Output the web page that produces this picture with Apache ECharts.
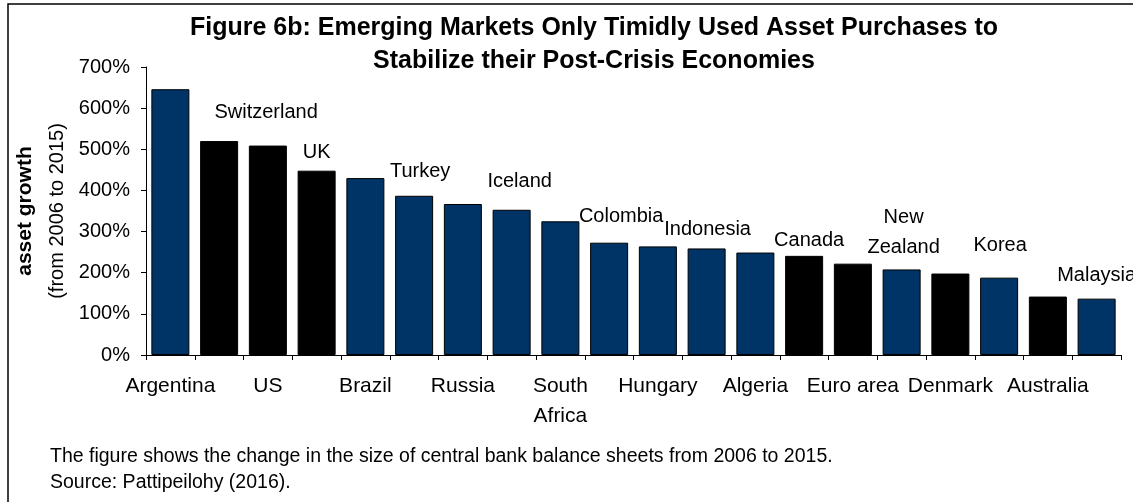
<!DOCTYPE html>
<html>
<head>
<meta charset="utf-8">
<script src="https://cdn.jsdelivr.net/npm/echarts@6/dist/echarts.min.js"></script>
<style>
  html, body { margin: 0; padding: 0; background: #ffffff; }
  #chart { width: 1133px; height: 502px; }
</style>
</head>
<body>
<div id="chart"></div>
<script>
// ---- data ----
const categories = ['Argentina', 'Switzerland', 'US', 'UK', 'Brazil', 'Turkey', 'Russia', 'Iceland',
  'South Africa', 'Colombia', 'Hungary', 'Indonesia', 'Algeria', 'Canada', 'Euro area',
  'New Zealand', 'Denmark', 'Korea', 'Australia', 'Malaysia'];
const assetGrowth = [646, 520, 509, 448, 430, 387, 367, 353, 325, 273, 264, 259, 249, 241, 222, 208, 198, 188, 142, 137];
const economyGroup = ['EM', 'AE', 'AE', 'AE', 'EM', 'EM', 'EM', 'EM', 'EM', 'EM', 'EM', 'EM', 'EM', 'AE', 'AE',
  'EM', 'AE', 'EM', 'AE', 'EM'];
const yTickValues = [0, 100, 200, 300, 400, 500, 600, 700];
const titleLines = ['Figure 6b: Emerging Markets Only Timidly Used Asset Purchases to',
  'Stabilize their Post-Crisis Economies'];
const yAxisTitle = 'asset growth';
const yAxisSubtitle = '(from 2006 to 2015)';
const noteLines = ['The figure shows the change in the size of central bank balance sheets from 2006 to 2015.',
  'Source: Pattipeilohy (2016).'];

// ---- styles ----
const FONT = '"Liberation Sans", Arial, sans-serif';
const groupColor = { EM: '#003366', AE: '#000000' };
const wrapName = { 'South Africa': 'South\nAfrica', 'New Zealand': 'New\nZealand' };
const labelNudge = {
  'Switzerland': [47, -7], 'UK': [0, 4], 'Turkey': [6, -2], 'Iceland': [8, -6],
  'Colombia': [12, -4], 'Indonesia': [1, 3], 'Canada': [5, 7], 'New Zealand': [2, 0],
  'Korea': [1, -10], 'Malaysia': [0, -1]
};

const barData = assetGrowth.map((v, i) => {
  const name = categories[i];
  const showTop = i % 2 === 1;
  return {
    value: v,
    itemStyle: { color: groupColor[economyGroup[i]], borderColor: '#000000', borderWidth: 1 },
    label: {
      show: showTop,
      offset: labelNudge[name] || [0, 0]
    }
  };
});

const chart = echarts.init(document.getElementById('chart'), null, { renderer: 'canvas' });
chart.setOption({
  animation: false,
  backgroundColor: '#ffffff',
  textStyle: { fontFamily: FONT },
  title: {
    text: titleLines.join('\n'),
    left: 594,
    top: 12,
    padding: 0,
    textAlign: 'center',
    textStyle: { fontFamily: FONT, fontSize: 25, fontWeight: 'bold', color: '#000', lineHeight: 33 }
  },
  grid: { left: 146, right: 12, top: 67, bottom: 147, containLabel: false },
  xAxis: {
    type: 'category',
    data: categories,
    axisLine: { lineStyle: { color: '#000', width: 1 } },
    axisTick: { show: true, interval: 0, length: 5, lineStyle: { color: '#000' } },
    axisLabel: {
      interval: 1,
      margin: 16,
      fontFamily: FONT,
      fontSize: 21,
      lineHeight: 30,
      color: '#000',
      formatter: v => wrapName[v] || v
    },
    splitLine: { show: false }
  },
  yAxis: {
    type: 'value',
    min: yTickValues[0],
    max: yTickValues[yTickValues.length - 1],
    interval: yTickValues[1] - yTickValues[0],
    name: '{a|' + yAxisTitle + '}\n{b|' + yAxisSubtitle + '}',
    nameLocation: 'middle',
    nameRotate: 90,
    nameGap: 65,
    nameTextStyle: {
      color: '#000',
      rich: {
        a: { fontFamily: FONT, fontSize: 21, fontWeight: 'bold', lineHeight: 33, color: '#000' },
        b: { fontFamily: FONT, fontSize: 20, lineHeight: 33, color: '#000' }
      }
    },
    axisLine: { show: true, lineStyle: { color: '#000', width: 1 } },
    axisTick: { show: true, length: 5, lineStyle: { color: '#000' } },
    axisLabel: { margin: 16, fontFamily: FONT, fontSize: 20, color: '#000', formatter: '{value}%' },
    splitLine: { show: false }
  },
  series: [{
    type: 'bar',
    data: barData,
    barCategoryGap: '22%',
    label: {
      position: 'top',
      distance: 7,
      fontFamily: FONT,
      fontSize: 20,
      lineHeight: 30,
      color: '#000',
      formatter: p => wrapName[p.name] || p.name
    }
  }],
  graphic: [
    {
      type: 'rect', silent: true,
      shape: { x: 8, y: 4, width: 1140, height: 520 },
      style: { fill: 'none', stroke: '#000', lineWidth: 1.5 }
    },
    {
      type: 'text', left: 50, top: 447,
      style: { text: noteLines[0], font: '19.5px ' + FONT, fill: '#000' }
    },
    {
      type: 'text', left: 50, top: 473,
      style: { text: noteLines[1], font: '19.5px ' + FONT, fill: '#000' }
    }
  ]
});
</script>
</body>
</html>
